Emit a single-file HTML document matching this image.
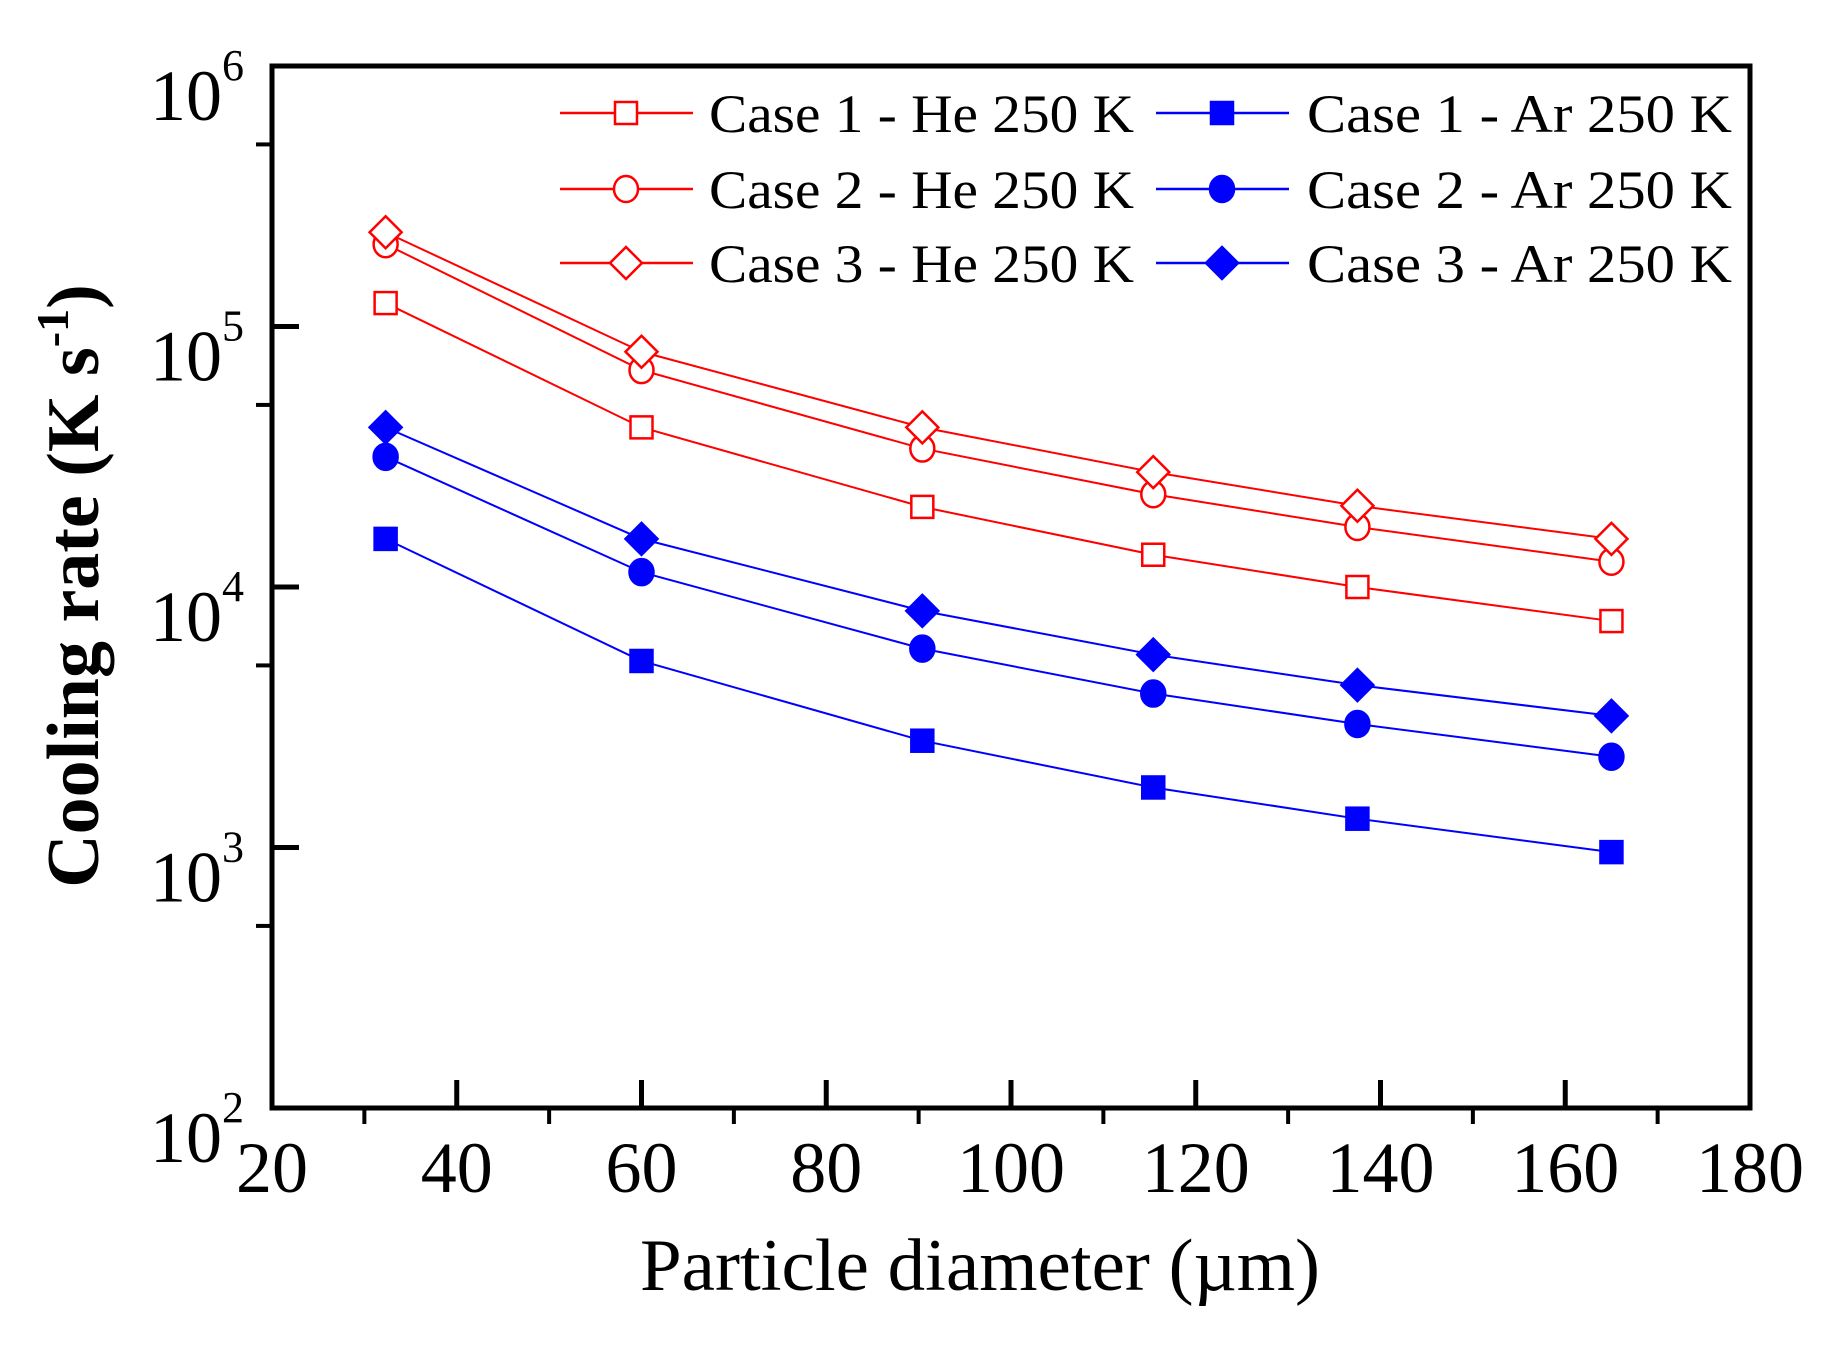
<!DOCTYPE html>
<html><head><meta charset="utf-8"><style>
html,body{margin:0;padding:0;background:#fff;}
svg{display:block;font-family:"Liberation Serif",serif;}
</style></head><body>
<svg id="chart" width="1829" height="1348" viewBox="0 0 1829 1348" xmlns="http://www.w3.org/2000/svg">
<rect x="0" y="0" width="1829" height="1348" fill="#fff"/>
<g id="plot"></g>
</svg>
<script>
const diameters = [32.3, 60, 90.4, 115.4, 137.5, 165];
const he1 = [1.23e5, 4.1e4, 2.03e4, 1.33e4, 1.0e4, 7.4e3];
const he2 = [2.07e5, 6.8e4, 3.4e4, 2.27e4, 1.7e4, 1.25e4];
const he3 = [2.3e5, 8.0e4, 4.1e4, 2.76e4, 2.05e4, 1.53e4];
const ar1 = [1.53e4, 5.2e3, 2.57e3, 1.7e3, 1.29e3, 9.6e2];
const ar2 = [3.16e4, 1.14e4, 5.8e3, 3.9e3, 2.98e3, 2.23e3];
const ar3 = [4.1e4, 1.53e4, 8.1e3, 5.5e3, 4.2e3, 3.2e3];
const xTicks = [20, 40, 60, 80, 100, 120, 140, 160, 180];
const yTickExps = [2, 3, 4, 5, 6];
const legendLabels = ["Case 1 - He 250 K","Case 2 - He 250 K","Case 3 - He 250 K","Case 1 - Ar 250 K","Case 2 - Ar 250 K","Case 3 - Ar 250 K"];

const L=272, R=1750, T=66, B=1108;
const xmin=20, xmax=180, ymin=2, ymax=6;
const X = v => L + (v - xmin) / (xmax - xmin) * (R - L);
const Y = v => B - (Math.log10(v) - ymin) / (ymax - ymin) * (B - T);
const NS="http://www.w3.org/2000/svg";
const g=document.getElementById('plot');
function mk(tag, attrs, parent){const e=document.createElementNS(NS,tag);for(const k in attrs)e.setAttribute(k,attrs[k]);(parent||g).appendChild(e);return e;}

const box=mk('rect',{x:L,y:T,width:R-L,height:B-T,fill:'none',stroke:'#000','stroke-width':5});



xTicks.forEach((t,i)=>{
  const x=X(t);
  if(i>0&&i<xTicks.length-1){const tk=mk('line',{x1:x,y1:B,x2:x,y2:B-28,stroke:'#000','stroke-width':5});
    
    }
  if(i<xTicks.length-1){const xm=X(t+10);const mt=mk('line',{x1:xm,y1:B,x2:xm,y2:B+16,stroke:'#000','stroke-width':4});
    
    }
  const tx=mk('text',{x:x,y:1192,'font-size':72,'text-anchor':'middle',fill:'#000'});
  tx.textContent=t;
  
  
});
yTickExps.forEach((e,i)=>{
  const y=Y(Math.pow(10,e));
  if(i>0&&i<yTickExps.length-1){const tk=mk('line',{x1:L,y1:y,x2:L+27,y2:y,stroke:'#000','stroke-width':5});
    
    }
  if(i<yTickExps.length-1){const ym=Y(5*Math.pow(10,e));const mt=mk('line',{x1:L,y1:ym,x2:L-16,y2:ym,stroke:'#000','stroke-width':4});
    
    }
  const tx=mk('text',{x:150,y:y+54,'font-size':72,fill:'#000'});
  
  
  const a=mk('tspan',{},tx);a.textContent='10';
  const b=mk('tspan',{dy:-40,'font-size':44},tx);b.textContent=e;
});

const xt=mk('text',{x:980,y:1290,'font-size':74,'text-anchor':'middle',fill:'#000',textLength:680,lengthAdjust:'spacingAndGlyphs'});
xt.textContent='Particle diameter (\u00b5m)';


const yt=mk('text',{x:0,y:0,'font-size':74,'font-weight':'bold','text-anchor':'middle',fill:'#000',transform:'translate(98,586) rotate(-90)'});


const y1=mk('tspan',{},yt);y1.textContent='Cooling rate (K s';
const y2=mk('tspan',{dy:-30,'font-size':46},yt);y2.textContent='-1';
const y3=mk('tspan',{dy:30},yt);y3.textContent=')';

function marker(parent,type,cx,cy,color,filled){
  const f=filled?color:'#fff', s=11;
  let m;
  if(type==='sq') m=mk('rect',{x:cx-s,y:cy-s,width:2*s,height:2*s,fill:f,stroke:color,'stroke-width':2.5},parent);
  else if(type==='ci') m=mk('ellipse',{cx:cx,cy:cy,rx:12,ry:13,fill:f,stroke:color,'stroke-width':2.5},parent);
  else m=mk('polygon',{points:`${cx},${cy-16} ${cx+16},${cy} ${cx},${cy+16} ${cx-16},${cy}`,fill:f,stroke:color,'stroke-width':2.5},parent);
  return m;
}
const series=[
  {d:he1,c:'#ff0000',t:'sq',f:false,n:'series-case1-he'},
  {d:he2,c:'#ff0000',t:'ci',f:false,n:'series-case2-he'},
  {d:he3,c:'#ff0000',t:'di',f:false,n:'series-case3-he'},
  {d:ar1,c:'#0000ff',t:'sq',f:true,n:'series-case1-ar'},
  {d:ar2,c:'#0000ff',t:'ci',f:true,n:'series-case2-ar'},
  {d:ar3,c:'#0000ff',t:'di',f:true,n:'series-case3-ar'}
];
series.forEach(s=>{
  const sg=mk('g',{});
  
  
  const pts=s.d.map((v,i)=>X(diameters[i])+','+Y(v)).join(' ');
  const pl=mk('polyline',{points:pts,fill:'none',stroke:s.c,'stroke-width':2},sg);
  
  
  s.d.forEach((v,i)=>{
    const m=marker(sg,s.t,X(diameters[i]),Y(v),s.c,s.f);
    
    
  });
});

const rowsY=[113,189,263];
series.forEach((s,i)=>{
  const col=i<3?0:1, row=i%3;
  const lx1=col?1156:560, lx2=col?1289:693, mx=col?1222:626, tx0=col?1307:709;
  const y=rowsY[row];
  const lg=mk('g',{});
  
  
  mk('line',{x1:lx1,y1:y,x2:lx2,y2:y,stroke:s.c,'stroke-width':2.5},lg);
  marker(lg,s.t,mx,y,s.c,s.f);
  const t=mk('text',{x:tx0,y:y+19,'font-size':54,fill:'#000',textLength:425,lengthAdjust:'spacingAndGlyphs'},lg);
  t.textContent=legendLabels[i];
});
</script>
</body></html>
